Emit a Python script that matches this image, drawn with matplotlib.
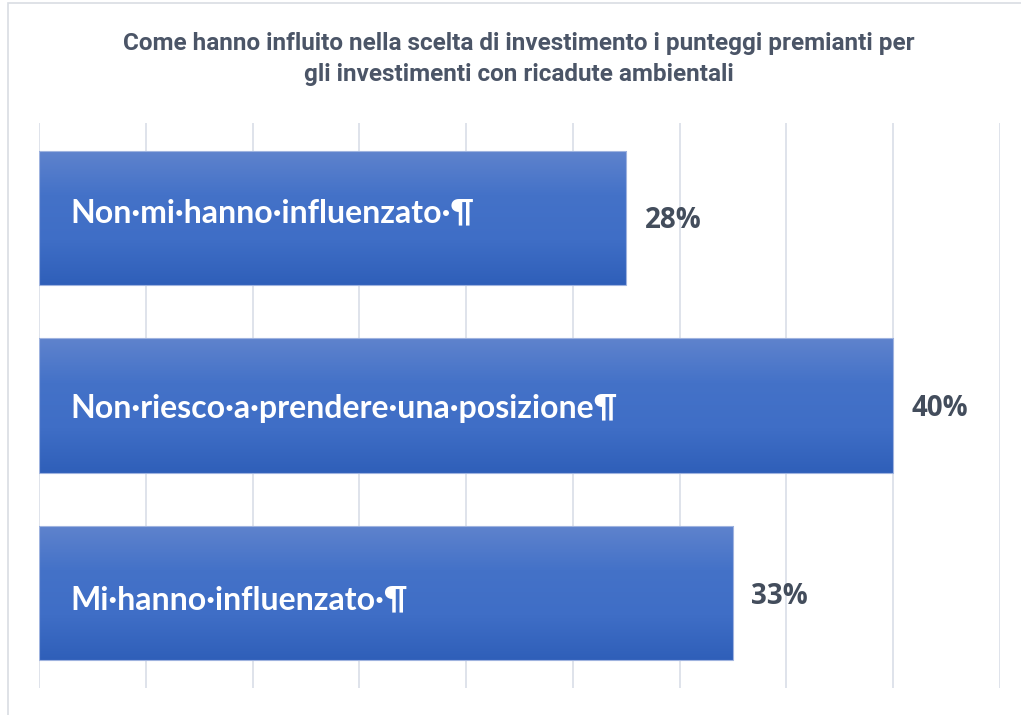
import numpy as np
import matplotlib.pyplot as plt
from matplotlib.patches import Rectangle

# dati
categorie = ["Non·mi·hanno·influenzato·¶",
             "Non·riesco·a·prendere·una·posizione¶",
             "Mi·hanno·influenzato·¶"]
valori = [27.5, 40.0, 32.5]
titolo = ("Come hanno influito nella scelta di investimento i punteggi premianti per\n"
          "gli investimenti con ricadute ambientali")
griglia = np.arange(0, 50, 5)

fig = plt.figure(figsize=(10.21, 7.15), dpi=100)
fig.patches.append(Rectangle((8/1021, -0.1), 1.2, 1 - 3/715 + 0.1, transform=fig.transFigure,
                             fill=False, edgecolor="#d9dde3", linewidth=1.2))

ax = fig.add_axes([39/1021, 1 - 688/715, 961/1021, 565/715])
y = np.arange(len(categorie))

for g in griglia:
    ax.axvline(g, color="#d9dee8", linewidth=1.2, zorder=0)

bars = ax.barh(y, valori, height=0.715, color="none", edgecolor="#9fb3df", linewidth=0.8, zorder=3)

# gradiente verticale sulle barre
cmap = plt.matplotlib.colors.LinearSegmentedColormap.from_list(
    "grad", ["#5f83cd", "#4472c8", "#3f6ec6", "#2f5fb9"])
grad = np.linspace(0, 1, 256).reshape(-1, 1)
for b in bars:
    x0, y0 = b.get_x(), b.get_y()
    w, h = b.get_width(), b.get_height()
    im = ax.imshow(grad, cmap=cmap, aspect="auto", extent=[x0, x0 + w, y0 + h, y0],
                   origin="upper", zorder=2)
    im.set_clip_path(b)

ax.set_xlim(0, 45)
ax.set_ylim(2.505, -0.505)
ax.set_xticks([])
ax.set_yticks([])
for s in ax.spines.values():
    s.set_visible(False)

fnt = ["Lato", "DejaVu Sans"]
dy = [-0.025, 0.015, 0.035]
for i, (c, v) in enumerate(zip(categorie, valori)):
    ax.text(1.45, i + dy[i], c, color="white", fontsize=23, fontweight="bold",
            family=fnt, va="center", ha="left", zorder=4)
    ax.text(v + 0.85, i + 0.015, f"{int(v + 0.5)}%", color="#434d5c", fontsize=20,
            fontweight="bold", family=["Open Sans", "DejaVu Sans"], va="center", ha="left", zorder=4)

fig.text(0.508, 1 - 59/715, titolo, ha="center", va="center", fontsize=17.5,
         fontweight="bold", color="#4b5567", linespacing=1.45,
         family=["Roboto", "DejaVu Sans"])

fig.savefig("out.png", dpi=100)
